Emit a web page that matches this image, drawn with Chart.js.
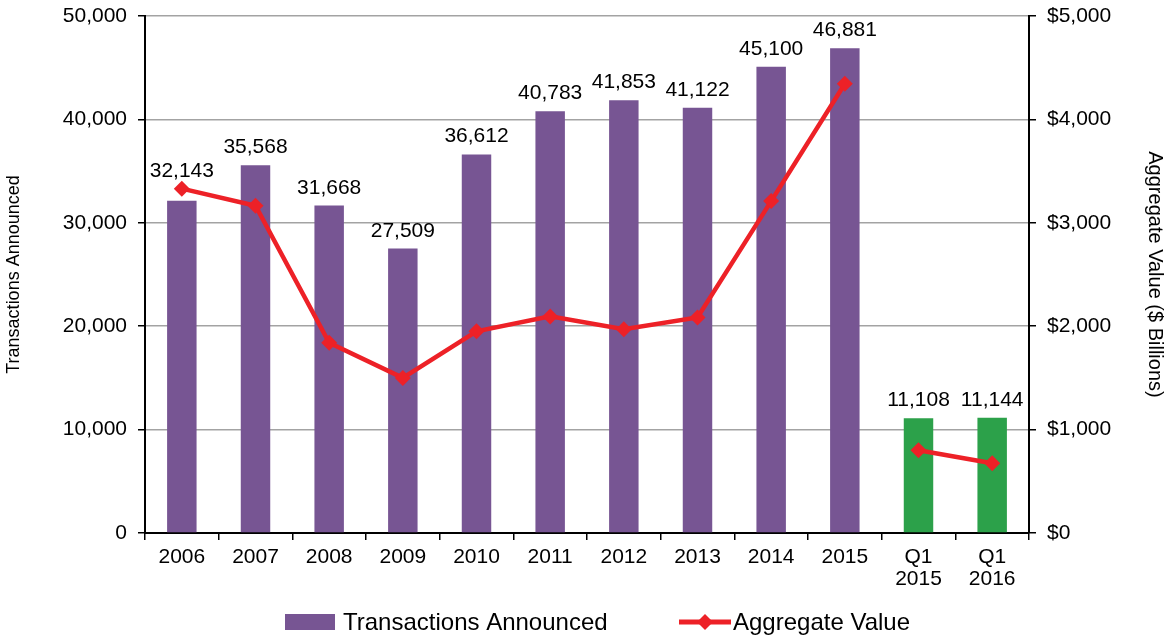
<!DOCTYPE html>
<html>
<head>
<meta charset="utf-8">
<script src="https://cdn.jsdelivr.net/npm/chart.js@4.4.1/dist/chart.umd.min.js"></script>
<style>
  html, body { margin: 0; padding: 0; background: #fff; }
  #wrap { width: 1169px; height: 637px; }
</style>
</head>
<body>
<div id="wrap"><canvas id="myChart"></canvas></div>
<script>
// categorias do eixo x
const categories = ["2006", "2007", "2008", "2009", "2010", "2011", "2012", "2013", "2014", "2015", ["Q1", "2015"], ["Q1", "2016"]];
// numero de transacoes anunciadas (eixo esquerdo)
const transactions = [32143, 35568, 31668, 27509, 36612, 40783, 41853, 41122, 45100, 46881, 11108, 11144];
// valor agregado em bilhoes de dolares (eixo direito)
const aggregateValue = [3330, 3165, 1840, 1500, 1950, 2095, 1970, 2085, 3210, 4345, 800, 675];
// cor de cada barra (anos em roxo, trimestres em verde)
const barColors = ["#775593", "#775593", "#775593", "#775593", "#775593", "#775593", "#775593", "#775593", "#775593", "#775593", "#2ca14a", "#2ca14a"];

const purple = "#775593";
const red = "#ed2127";
const fontFamily = "'Liberation Sans', Arial, sans-serif";

// escreve o valor em cima de cada barra (ou em cima do marcador se ele estiver mais alto)
const barLabels = {
    id: "barLabels",
    afterDatasetsDraw(chart) {
        const ctx = chart.ctx;
        const bars = chart.getDatasetMeta(0).data;
        const points = chart.getDatasetMeta(1).data;
        ctx.save();
        ctx.font = "21px " + fontFamily;
        ctx.fillStyle = "#000";
        ctx.textAlign = "center";
        ctx.textBaseline = "alphabetic";
        bars.forEach((bar, i) => {
            const top = Math.min(bar.y, points[i].y);
            ctx.fillText(transactions[i].toLocaleString("en-US"), bar.x, top - 12);
        });
        ctx.restore();
    }
};

// legenda desenhada a mao (barra + linha com losango)
const customLegend = {
    id: "customLegend",
    afterDraw(chart) {
        const ctx = chart.ctx;
        const y = 622;
        ctx.save();
        ctx.font = "24px " + fontFamily;
        ctx.textBaseline = "middle";
        ctx.fillStyle = purple;
        ctx.fillRect(285, 614, 50, 16);
        ctx.fillStyle = "#000";
        ctx.fillText("Transactions Announced", 343, y + 1);

        ctx.strokeStyle = red;
        ctx.lineWidth = 5;
        ctx.beginPath();
        ctx.moveTo(679, y);
        ctx.lineTo(731, y);
        ctx.stroke();
        ctx.fillStyle = red;
        ctx.beginPath();
        ctx.moveTo(705, y - 8);
        ctx.lineTo(713, y);
        ctx.lineTo(705, y + 8);
        ctx.lineTo(697, y);
        ctx.closePath();
        ctx.fill();
        ctx.fillStyle = "#000";
        ctx.fillText("Aggregate Value", 733, y + 1);
        ctx.restore();
    }
};

// largura fixa dos eixos verticais e sem folga extra em cima/embaixo
const fixWidth = w => s => { s.width = w; s.paddingTop = 0; s.paddingBottom = 0; };

const config = {
    type: "bar",
    data: {
        labels: categories,
        datasets: [
            {
                label: "Transactions Announced",
                data: transactions,
                backgroundColor: barColors,
                barPercentage: 0.8,
                categoryPercentage: 0.5,
                yAxisID: "y",
                order: 2
            },
            {
                type: "line",
                label: "Aggregate Value",
                data: aggregateValue,
                borderColor: red,
                backgroundColor: red,
                borderWidth: 4.5,
                pointStyle: "rectRot",
                pointRadius: 8,
                pointHoverRadius: 8,
                pointBorderWidth: 0,
                tension: 0,
                yAxisID: "y1",
                order: 1,
                // sem ligacao entre 2015 e Q1 2015
                segment: {
                    borderColor: c => c.p0DataIndex === 9 ? "rgba(0,0,0,0)" : red
                }
            }
        ]
    },
    options: {
        responsive: true,
        maintainAspectRatio: false,
        animation: false,
        layout: { padding: { top: 16, bottom: 0, left: 0, right: 0 } },
        plugins: {
            legend: { display: false },
            tooltip: { enabled: false }
        },
        scales: {
            x: {
                offset: true,
                afterFit: s => { s.height = 104; },
                grid: {
                    offset: true,
                    drawOnChartArea: false,
                    tickLength: 7,
                    tickColor: "#000",
                    lineWidth: 1.5
                },
                border: { color: "#000", width: 2 },
                ticks: {
                    color: "#000",
                    font: { size: 21, family: fontFamily, lineHeight: 1.05 },
                    padding: 6,
                    maxRotation: 0
                }
            },
            y: {
                position: "left",
                min: 0,
                max: 50000,
                afterFit: fixWidth(145),
                grid: {
                    color: "#a3a3a3",
                    lineWidth: 1.5,
                    tickColor: "#000",
                    tickLength: 7
                },
                border: { color: "#000", width: 2 },
                ticks: {
                    stepSize: 10000,
                    color: "#000",
                    padding: 11,
                    font: { size: 21, family: fontFamily },
                    callback: v => v.toLocaleString("en-US")
                },
                title: {
                    display: true,
                    text: "Transactions Announced",
                    color: "#000",
                    font: { size: 18, family: fontFamily },
                    padding: { top: 3, bottom: 0 }
                }
            },
            y1: {
                position: "right",
                min: 0,
                max: 5000,
                afterFit: fixWidth(140),
                grid: {
                    drawOnChartArea: false,
                    tickColor: "#000",
                    tickLength: 7,
                    lineWidth: 1.5
                },
                border: { color: "#000", width: 2 },
                ticks: {
                    stepSize: 1000,
                    color: "#000",
                    padding: 11,
                    font: { size: 21, family: fontFamily },
                    callback: v => "$" + v.toLocaleString("en-US")
                },
                title: {
                    display: true,
                    text: "Aggregate Value ($ Billions)",
                    color: "#000",
                    font: { size: 20, family: fontFamily },
                    padding: { top: 2, bottom: 0 }
                }
            }
        }
    },
    plugins: [barLabels, customLegend]
};

var myChart = new Chart(document.getElementById("myChart"), config);
</script>
</body>
</html>
